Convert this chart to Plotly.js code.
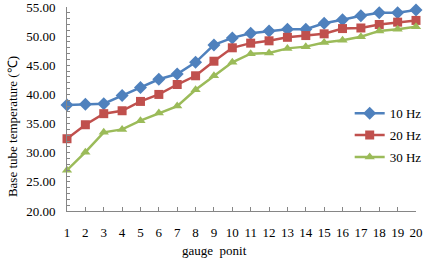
<!DOCTYPE html>
<html><head><meta charset="utf-8">
<script src="https://cdn.plot.ly/plotly-3.0.1.min.js"></script>
<style>html,body{margin:0;padding:0;background:#fff}#c{width:434px;height:262px}</style>
</head><body><div id="c"></div>
<script>
const points = [1,2,3,4,5,6,7,8,9,10,11,12,13,14,15,16,17,18,19,20];
const hz10 = [38.2,38.3,38.4,39.8,41.2,42.6,43.5,45.5,48.5,49.7,50.5,50.9,51.2,51.2,52.2,52.8,53.5,54.0,54.0,54.5];
const hz20 = [32.4,34.8,36.7,37.2,38.8,40.0,41.7,43.2,45.7,48.0,48.8,49.2,49.8,50.1,50.4,51.3,51.4,52.0,52.4,52.7];
const hz30 = [27.0,30.1,33.5,34.0,35.5,36.8,38.0,40.8,43.2,45.5,47.0,47.1,47.9,48.2,48.9,49.3,49.9,50.9,51.2,51.6];
const names = ['10 Hz','20 Hz','30 Hz'];
const yTicks = [20,25,30,35,40,45,50,55];
const yTickText = yTicks.map(v => v.toFixed(2));
const colors = ['#4F81BD','#C0504D','#9BBB59'];
const symbols = ['diamond','square','triangle-up'];
const series = [hz10, hz20, hz30];
const font = 'Liberation Serif, Times New Roman, serif';
const traces = series.map((s,i) => ({
  x: points, y: s, name: names[i], type: 'scatter', mode: 'lines+markers',
  line: {color: colors[i], width: 2.5},
  marker: {color: colors[i], symbol: symbols[i], size: i===0 ? 10 : 9},
  cliponaxis: false, legendgroup: 'g'+i
}));
const layout = {
  width: 434, height: 262,
  margin: {l: 67, r: 11, t: 7, b: 51},
  paper_bgcolor: '#fff', plot_bgcolor: '#fff',
  font: {family: font, size: 13, color: '#000'},
  showlegend: true,
  legend: {x: 0.81, y: 0.553, xanchor: 'left', yanchor: 'top', bgcolor: 'rgba(0,0,0,0)',
    font: {family: font, size: 13, color: '#000'}, tracegroupgap: 2},
  xaxis: {range: [1,20], tickvals: points, ticktext: points.map(String), showgrid: false, zeroline: false,
    showline: true, linecolor: '#868686', linewidth: 1, ticks: 'inside', ticklen: 4, tickcolor: '#868686',
    ticklabelstandoff: 9, ticklabeloverflow: 'allow', tickfont: {family: font, size: 13, color: '#000'}},
  yaxis: {range: [20,55], tickvals: yTicks, ticktext: yTickText, showgrid: false, zeroline: false,
    showline: true, linecolor: '#868686', linewidth: 1, ticks: 'inside', ticklen: 3, tickcolor: '#868686',
    minor: {dtick: 1, ticks: 'inside', ticklen: 3, tickcolor: '#868686', showgrid: false},
    ticklabelstandoff: 8, ticklabeloverflow: 'allow', tickfont: {family: font, size: 13, color: '#000'}},
  annotations: [
    {text: 'Base tube temperature (\u2103)', xref: 'paper', yref: 'paper', x: -67/356 + 11/356, y: 1 - (127-7)/204,
      xanchor: 'center', yanchor: 'middle', textangle: -90, showarrow: false, font: {family: font, size: 13, color: '#000'}},
    {text: 'gauge\u00a0\u00a0ponit', xref: 'paper', yref: 'paper', x: (217-67)/356, y: 1 - (250-7)/204,
      xanchor: 'center', yanchor: 'middle', showarrow: false, font: {family: font, size: 13, color: '#000'}}
  ]
};
Plotly.newPlot('c', traces, layout, {displayModeBar: false, staticPlot: true});
</script></body></html>
